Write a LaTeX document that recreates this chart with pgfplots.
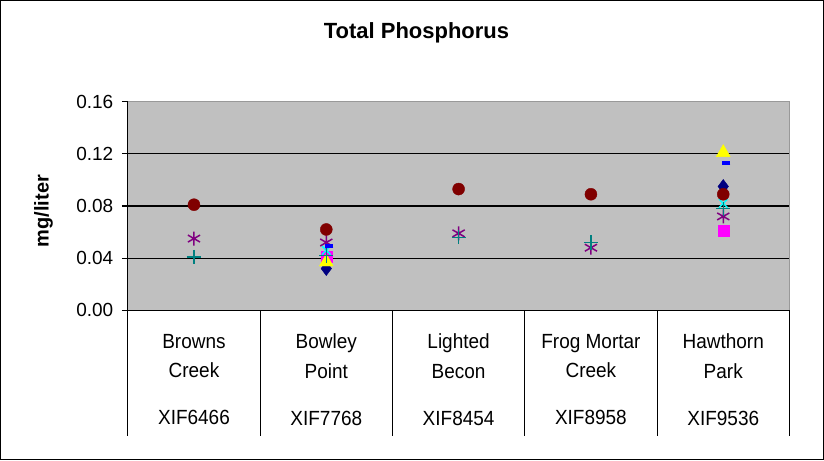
\documentclass[border=0pt]{standalone}
\usepackage{pgfplots}
\pgfplotsset{compat=1.18}
\usepackage{fontspec}
\setmainfont{Liberation Sans}
\definecolor{plotgray}{RGB}{192,192,192}
\definecolor{sNavy}{RGB}{0,0,128}
\definecolor{sMag}{RGB}{255,0,255}
\definecolor{sYel}{RGB}{255,255,0}
\definecolor{sCyan}{RGB}{0,255,255}
\definecolor{sPurp}{RGB}{128,0,128}
\definecolor{sRed}{RGB}{128,0,0}
\definecolor{sTeal}{RGB}{0,128,128}
\definecolor{sBlue}{RGB}{0,0,255}
\begin{document}
\begin{tikzpicture}
\begin{axis}[
    scale only axis, width=660bp, height=208bp,
    at={(0,0)}, anchor=south west,
    xmin=0.5, xmax=5.5, ymin=0, ymax=0.16,
    axis x line*=bottom, axis y line*=left,
    axis line style={black, line width=1bp},
    axis background/.style={fill=plotgray, draw=gray!80, line width=1bp},
    ytick={0,0.04,...,0.16},
    yticklabel style={/pgf/number format/fixed, /pgf/number format/fixed zerofill, /pgf/number format/precision=2, /pgf/number format/assume math mode=true, font=\fontsize{19}{22}\selectfont, xshift=-5bp},
    ytick align=outside, major tick length=6bp,
    tick style={black, line width=1bp},
    extra y ticks={0.04,0.08,0.12},
    extra y tick labels={},
    extra y tick style={grid=major, major grid style={black, line width=1bp}, major tick length=0pt},
    xtick={1,...,5},
    xticklabels={{Browns\\Creek\\[17bp]XIF6466},{Bowley\\Point\\[17bp]XIF7768},{Lighted\\Becon\\[17bp]XIF8454},{Frog Mortar\\Creek\\[17bp]XIF8958},{Hawthorn\\Park\\[17bp]XIF9536}},
    xticklabel style={align=center, font=\fontsize{19}{27}\selectfont, anchor=north, yshift=-20bp, yscale=1.08},
    xtick style={draw=none},
    ylabel={\textbf{mg/liter}},
    ylabel style={at={(rel axis cs:0,0.476)}, yshift=84bp, anchor=center, font=\fontsize{20}{22}\selectfont},
    clip=false,
    only marks,
]
% vertical separators of the category table
\pgfplotsinvokeforeach{0.5,1.5,2.5,3.5,4.5,5.5}{
  \draw[black, line width=1bp] (axis cs:#1,0) -- ([yshift=-125bp]axis cs:#1,0);
}
\addplot[mark=diamond*, mark size=7bp, color=sNavy] coordinates {(2,0.032) (5,0.095)};
\addplot[mark=square*, mark size=5.5bp, color=sMag] coordinates {(2,0.041) (5,0.061)};
\addplot[mark=triangle*, mark size=8bp, color=sYel] coordinates {(2,0.037) (5,0.121)};
\addplot[mark=x, mark size=6bp, color=sCyan, mark options={line width=1.5bp}] coordinates {(2,0.046) (5,0.082)};
\addplot[mark=asterisk, mark size=7bp, color=sPurp, mark options={line width=1.5bp}] coordinates {(1,0.055) (2,0.052) (3,0.059) (4,0.048) (5,0.072)};
\addplot[mark=*, mark size=6bp, color=sRed] coordinates {(1,0.081) (2,0.062) (3,0.093) (4,0.089) (5,0.089)};
\addplot[mark=+, mark size=7bp, color=sTeal, mark options={line width=1.5bp}] coordinates {(1,0.041) (2,0.042) (3,0.056) (4,0.052) (5,0.078)};
\addplot[mark=-, mark size=4bp, color=sBlue, mark options={line width=4bp, xshift=3bp}] coordinates {(2,0.049) (5,0.113)};
\end{axis}
\node[font=\bfseries\fontsize{22}{25}\selectfont] at (288bp,277bp) {Total Phosphorus};
\draw[black, line width=1bp] (-127bp,-149bp) rectangle (694bp,309bp);
\end{tikzpicture}
\end{document}
